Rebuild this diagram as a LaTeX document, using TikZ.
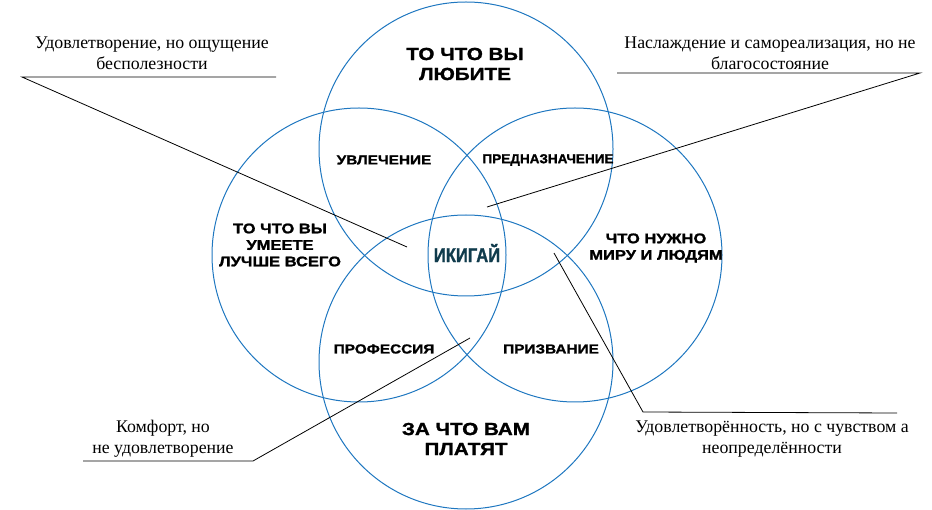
\documentclass[tikz,border=0pt]{standalone}
\usepackage{fontspec}
\setmainfont{Liberation Serif}
\newfontfamily\capsfont{Liberation Sans}[BoldFont={Liberation Sans Bold},BoldFeatures={FakeStretch=1.18,FakeBold=1.4}]
\newfontfamily\capsnarrow{Liberation Sans}[BoldFont={Liberation Sans Bold},BoldFeatures={FakeStretch=1.04,FakeBold=1.4}]
\newfontfamily\ikifont{Liberation Sans}[BoldFont={Liberation Sans Bold},BoldFeatures={FakeStretch=0.83,FakeBold=1.2}]
\definecolor{circblue}{HTML}{1F77C0}
\definecolor{ikicol}{HTML}{103B4C}
\tikzset{
  circ/.style={draw=circblue, line width=1.0pt},
  bigcap/.style={font=\capsfont\bfseries\fontsize{17.5}{20}\selectfont, align=center, inner sep=0pt},
  smallcap/.style={font=\capsfont\bfseries\fontsize{13}{16}\selectfont, align=center, inner sep=0pt},
  midcap/.style={font=\capsfont\bfseries\fontsize{14}{16.5}\selectfont, align=center, inner sep=0pt},
  note/.style={font=\fontsize{17.8}{21}\selectfont, align=center, inner sep=0pt},
  lead/.style={draw=black, line width=0.8pt}
}
\begin{document}
\begin{tikzpicture}[x=1pt,y=-1pt]
\useasboundingbox (0,0) rectangle (932,510);
% circles
\draw[circ] (466,149) circle[radius=147];
\draw[circ] (359,255) circle[radius=147];
\draw[circ] (575,255) circle[radius=147];
\draw[circ] (466,362) circle[radius=147];
% main labels
\node[bigcap] (love) at (465,64) {ТО ЧТО ВЫ\\ЛЮБИТЕ};
\node[bigcap] (paid) at (466,439) {ЗА ЧТО ВАМ\\ПЛАТЯТ};
\node[midcap] (good) at (280,245) {ТО ЧТО ВЫ\\УМЕЕТЕ\\ЛУЧШЕ ВСЕГО};
\node[midcap] (world) at (656,248) {ЧТО НУЖНО\\МИРУ И ЛЮДЯМ};
\node[smallcap] (passion) at (384,160) {УВЛЕЧЕНИЕ};
\node[smallcap, font=\capsnarrow\bfseries\fontsize{13}{16}\selectfont] (mission) at (548,160) {ПРЕДНАЗНАЧЕНИЕ};
\node[smallcap] (profession) at (384,349) {ПРОФЕССИЯ};
\node[smallcap] (vocation) at (551,349) {ПРИЗВАНИЕ};
\node[font=\ikifont\bfseries\fontsize{20}{22}\selectfont, text=ikicol, inner sep=0pt] (ikigai) at (467,253) {ИКИГАЙ};
% notes
\node[note] (tl) at (152,53) {Удовлетворение, но ощущение\\бесполезности};
\node[note] (tr) at (770,53) {Наслаждение и самореализация, но не\\благосостояние};
\node[note] (bl) at (163,439) {Комфорт, но\\не удовлетворение};
\node[note] (br) at (772,439) {Удовлетворённость, но с чувством а\\неопределённости};
% leader coordinates
\coordinate (tlA) at (22,77);
\coordinate (tlB) at (276,77);
\coordinate (tlE) at (407,247);
\coordinate (trA) at (617,73);
\coordinate (trB) at (920,73);
\coordinate (trE) at (487,207);
\coordinate (blA) at (83,461);
\coordinate (blB) at (253,461);
\coordinate (blE) at (470,338);
\coordinate (brA) at (897,413);
\coordinate (brB) at (643,412);
\coordinate (brE) at (554,253);
\draw[lead] (tlB) -- (tlA) -- (tlE);
\draw[lead] (trA) -- (trB) -- (trE);
\draw[lead] (blA) -- (blB) -- (blE);
\draw[lead] (brA) -- (brB) -- (brE);
\end{tikzpicture}
\end{document}
